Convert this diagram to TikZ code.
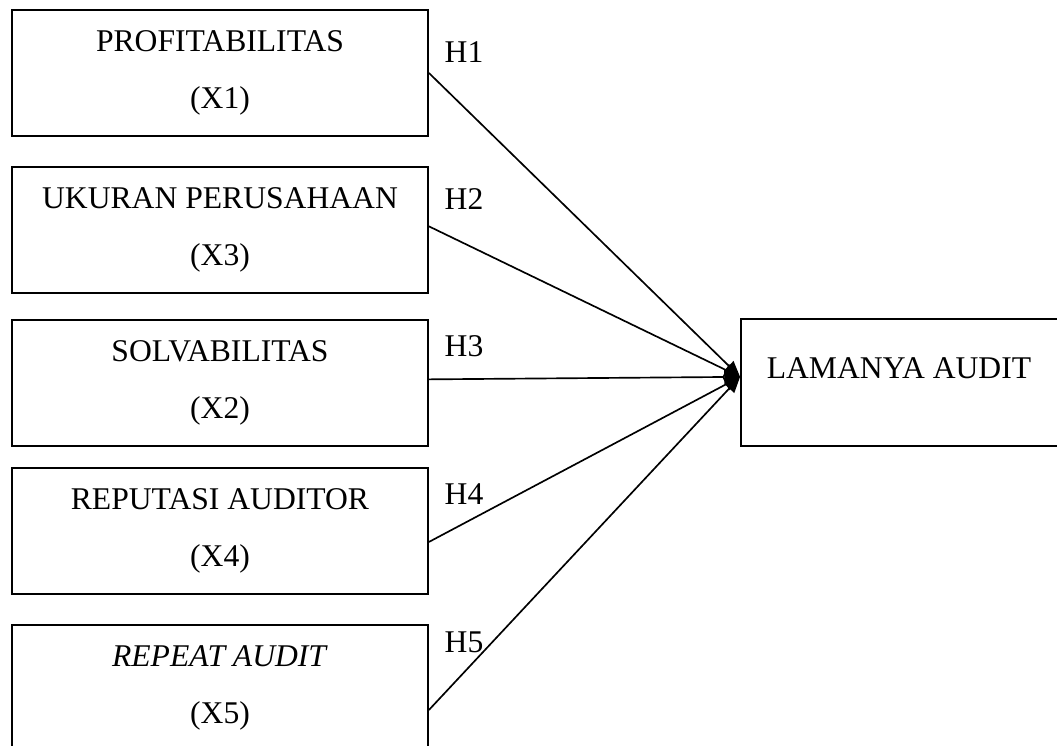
\documentclass[tikz,border=0pt]{standalone}
\usepackage{fontspec}
\setmainfont{Liberation Serif}
\usepackage{tikz}
\usetikzlibrary{positioning,arrows.meta}

\tikzset{
    varBox/.style={draw, line width=1.1pt, minimum width=8.32cm, minimum height=2.52cm,
        inner sep=0pt, align=center, font=\fontsize{18}{32.4}\selectfont},
    hypLabel/.style={inner sep=0pt, font=\fontsize{18}{22}\selectfont},
    hypLine/.style={line width=0.95pt, -{Triangle[length=9pt,width=7.5pt]}}
}

\begin{document}
\begin{tikzpicture}[x=0.02cm, y=-0.02cm]
    \useasboundingbox (0,0) rectangle (1057,746);
    \clip (0,0) rectangle (1057,746);

    \node[varBox] (profitabilitas) at (220,73) {PROFITABILITAS\\(X1)};
    \node[varBox] (ukuranPerusahaan) at (220,230) {UKURAN PERUSAHAAN\\(X3)};
    \node[varBox] (solvabilitas) at (220,383) {SOLVABILITAS\\(X2)};
    \node[varBox] (reputasiAuditor) at (220,531) {REPUTASI AUDITOR\\(X4)};
    \node[varBox] (repeatAudit) at (220,688) {\textit{REPEAT AUDIT}\\(X5)};
    \node[varBox, minimum width=6.42cm, minimum height=2.54cm] (lamanyaAudit) at (901.5,382.5) {};
    \node[hypLabel] (lamanyaText) at (899,368) {LAMANYA AUDIT};

    \node[hypLabel] (hyp1) at (464,52) {H1};
    \node[hypLabel] (hyp2) at (464,199) {H2};
    \node[hypLabel] (hyp3) at (464,346) {H3};
    \node[hypLabel] (hyp4) at (464,494) {H4};
    \node[hypLabel] (hyp5) at (464,642) {H5};

\draw[hypLine] (profitabilitas.0.55) -- (lamanyaAudit.178.4);
\draw[hypLine] (ukuranPerusahaan.1.93) -- (lamanyaAudit.178.4);
\draw[hypLine] (solvabilitas.1.1) -- (lamanyaAudit.178.4);
\draw[hypLine] (reputasiAuditor.-3.3) -- (lamanyaAudit.178.4);
\draw[hypLine] (repeatAudit.-6.85) -- (lamanyaAudit.178.4);

\end{tikzpicture}
\end{document}
